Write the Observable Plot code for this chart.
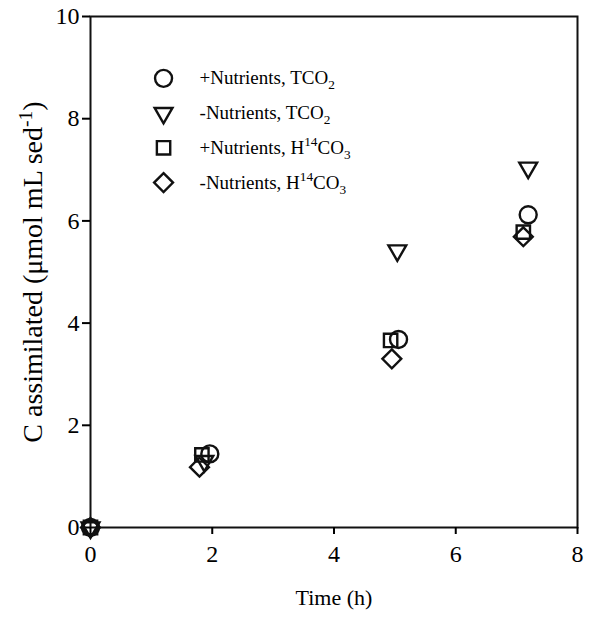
<!DOCTYPE html>
<html><head><meta charset="utf-8">
<script src="https://cdn.jsdelivr.net/npm/d3@7"></script>
<script src="https://cdn.jsdelivr.net/npm/@observablehq/plot@0.6"></script>
<style>body{margin:0;background:#fff} svg text{font-family:'Liberation Serif','Times New Roman',Times,serif !important;}</style>
</head><body><div id="chart"></div>
<script>
// Series (legend order)
const seriesNames = ["+Nutrients, TCO2", "-Nutrients, TCO2", "+Nutrients, H14CO3", "-Nutrients, H14CO3"];
const seriesSymbols = ["circle", "triangle2", "square2", "diamond2"];

// Time (h) and C assimilated (µmol mL sed^-1), per series
const timePlusTCO2 = [0, 1.96, 5.06, 7.19];
const cPlusTCO2    = [0, 1.44, 3.68, 6.12];
const timeMinusTCO2 = [0, 1.87, 5.04, 7.19];
const cMinusTCO2    = [0, 1.30, 5.42, 7.04];
const timePlusH14 = [0, 1.83, 4.93, 7.11];
const cPlusH14    = [0, 1.42, 3.66, 5.78];
const timeMinusH14 = [0, 1.79, 4.95, 7.11];
const cMinusH14    = [0, 1.18, 3.30, 5.69];

const xTicks = [0, 2, 4, 6, 8];
const yTicks = [0, 2, 4, 6, 8, 10];
const xLabel = "Time (h)";
const yLabel = "C assimilated (μmol mL sed-1)";

const seriesTimes = [timePlusTCO2, timeMinusTCO2, timePlusH14, timeMinusH14];
const seriesValues = [cPlusTCO2, cMinusTCO2, cPlusH14, cMinusH14];
const rows = [];
seriesNames.forEach((s, i) => seriesTimes[i].forEach((t, j) => rows.push({series: s, t, c: seriesValues[i][j]})));

// legend layout (in data units)
const legendX = 1.2, legendTop = 8.79, legendStep = 0.68;
const legendRows = seriesNames.map((s, i) => ({series: s, t: legendX, c: legendTop - i * legendStep}));

const font = "'Liberation Serif','Times New Roman',Times,serif";
const ink = "#000";
const rot = d => d.series === "-Nutrients, TCO2" ? 180 : 0;

const chart = Plot.plot({
  width: 601, height: 619,
  marginLeft: 90, marginRight: 24, marginTop: 16, marginBottom: 92,
  style: {fontFamily: font, fontSize: "22px", color: ink, background: "#fff"},
  x: {domain: [0, 8]},
  y: {domain: [0, 10]},
  symbol: {domain: seriesNames, range: seriesSymbols},
  marks: [
    Plot.frame({stroke: "#111", strokeWidth: 2}),
    Plot.axisX({ticks: xTicks, tickSize: 7, tickPadding: 10, tickFormat: d => String(d), label: null, fontSize: 24, fontFamily: font, fill: ink, strokeWidth: 2}),
    Plot.axisY({ticks: yTicks, tickSize: 8, tickPadding: 3, tickFormat: d => String(d), label: null, fontSize: 24, fontFamily: font, fill: ink, strokeWidth: 2}),
    Plot.dot(rows, {x: "t", y: "c", symbol: "series", r: 8.5, stroke: "#111", strokeWidth: 2.4, fill: "none", rotate: rot, clip: false}),
    Plot.dot(legendRows, {x: "t", y: "c", symbol: "series", r: 8.5, stroke: "#111", strokeWidth: 2.4, fill: "none", rotate: rot}),
    Plot.text(legendRows, {x: "t", y: "c", text: "series", dx: 36, textAnchor: "start", fontSize: 19, fontFamily: font, fill: ink}),
    Plot.text([xLabel], {frameAnchor: "bottom", dy: 77, fontSize: 22, fontFamily: font, fill: ink}),
    Plot.text([yLabel], {frameAnchor: "left", dx: -57, dy: 0, rotate: -90, textAnchor: "middle", lineAnchor: "middle", fontSize: 28, fontFamily: font, fill: ink})
  ]
});
document.getElementById("chart").appendChild(chart);

// typographic sub/superscripts
d3.select(chart).selectAll("text").each(function() {
  const el = this;
  const txt = el.textContent;
  if (txt.endsWith("TCO2")) {
    el.innerHTML = txt.replace("TCO2", "TCO") + `<tspan dy="5" font-size="70%">2</tspan>`;
  } else if (txt.endsWith("H14CO3")) {
    el.innerHTML = txt.replace("H14CO3", "H") + `<tspan dy="-8" font-size="70%">14</tspan><tspan dy="8">CO</tspan><tspan dy="5" font-size="70%">3</tspan>`;
  } else if (txt === yLabel) {
    el.innerHTML = "C assimilated (μmol mL sed" + `<tspan dy="-10" font-size="70%">-1</tspan><tspan dy="10">)</tspan>`;
  }
});
</script>
</body></html>
